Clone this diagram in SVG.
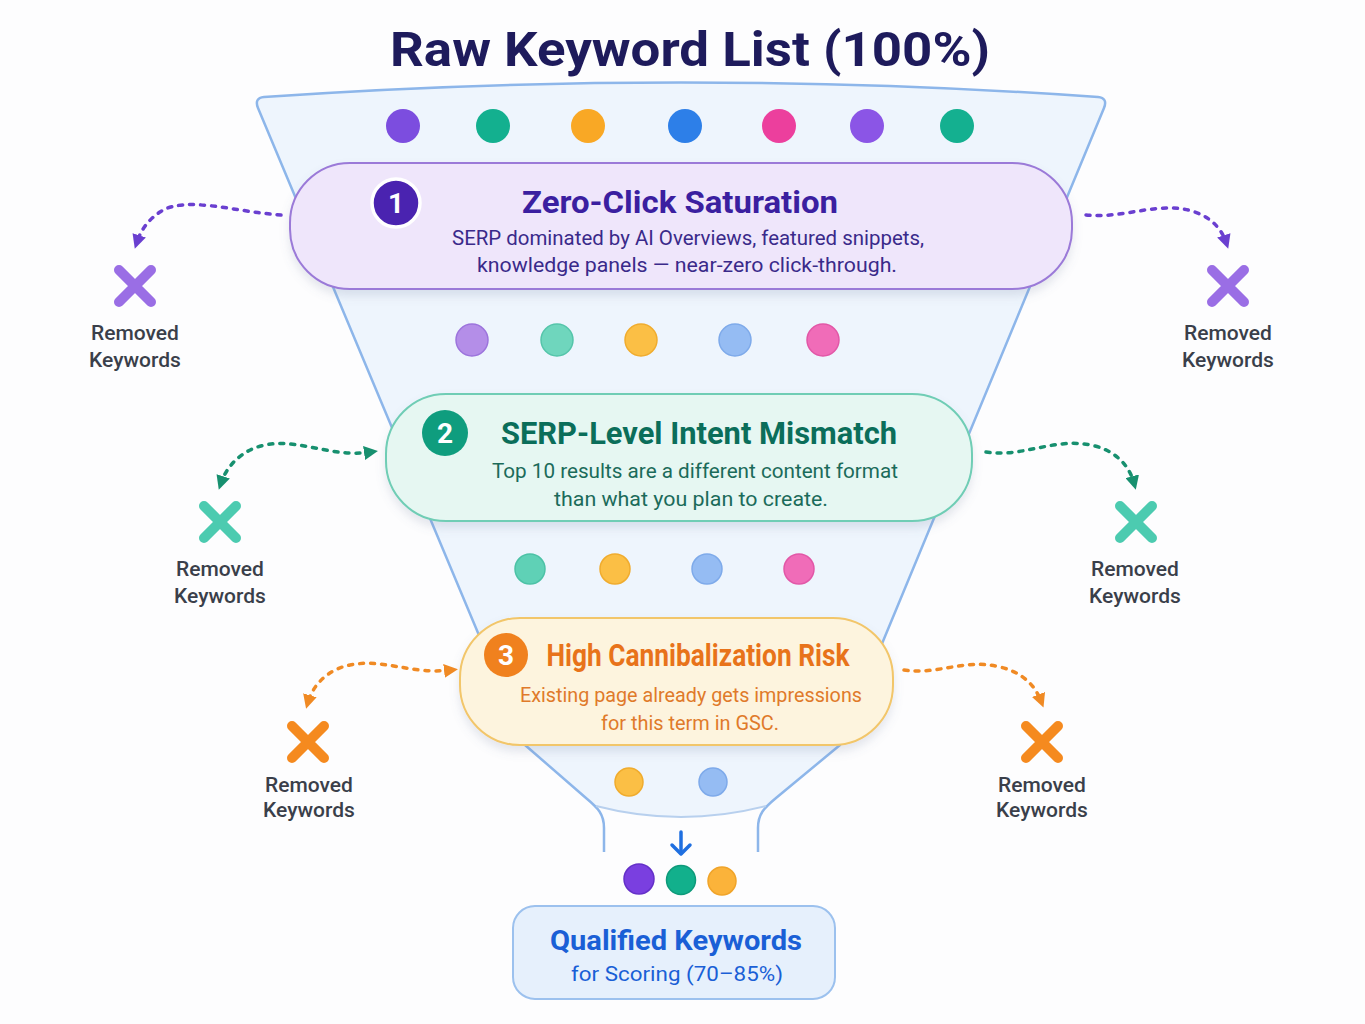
<svg xmlns="http://www.w3.org/2000/svg" width="1365" height="1024" viewBox="0 0 1365 1024">
<defs>
<style>
text{font-family:Roboto,"Open Sans","Liberation Sans",sans-serif}
.title{font-size:48px;font-weight:700;fill:#1e1b5c}
.st{font-size:32px;font-weight:700}
.desc{font-size:19.5px}
.rm{font-size:21px;fill:#3a3f4a;font-weight:500}
.badge{font-size:28px;font-weight:700;fill:#fff}
.dp{fill:none;stroke-width:3.5;stroke-linecap:round;stroke-dasharray:4 7}
.xx{fill:none;stroke-width:10;stroke-linecap:round}
</style>
<filter id="sh" x="-10%" y="-20%" width="120%" height="150%">
<feDropShadow dx="0" dy="6" stdDeviation="5" flood-color="#6b7a99" flood-opacity="0.18"/>
</filter>
<marker id="mP" viewBox="0 0 10 10" refX="5" refY="5" markerWidth="4" markerHeight="4" orient="auto-start-reverse" markerUnits="strokeWidth"><path d="M0,0 L10,5 L0,10 z" fill="#6a3fd0"/></marker>
<marker id="mT" viewBox="0 0 10 10" refX="5" refY="5" markerWidth="4" markerHeight="4" orient="auto-start-reverse" markerUnits="strokeWidth"><path d="M0,0 L10,5 L0,10 z" fill="#17906f"/></marker>
<marker id="mO" viewBox="0 0 10 10" refX="5" refY="5" markerWidth="4" markerHeight="4" orient="auto-start-reverse" markerUnits="strokeWidth"><path d="M0,0 L10,5 L0,10 z" fill="#f08a24"/></marker>
<marker id="mB" viewBox="0 0 10 10" refX="5" refY="5" markerWidth="4" markerHeight="4" orient="auto" markerUnits="strokeWidth"><path d="M0,0 L10,5 L0,10" fill="none" stroke="#1f6fe0" stroke-width="2.5" stroke-linecap="round"/></marker>
</defs>
<rect width="1365" height="1024" fill="#fdfdfe"/>

<g id="title"><text class="title" x="690" y="66" text-anchor="middle" textLength="600" lengthAdjust="spacingAndGlyphs">Raw Keyword List (100%)</text></g>

<g id="funnel">
<path d="M264,97 Q681,68 1098,97 Q1108,98 1104,108 L840,745 L778,798 C772,803 768,805 766,806 Q681,828 596,806 C594,805 590,803 584,798 L525,745 L258,108 Q254,98 264,97 Z" fill="#eef5fd"/>
<path d="M604,852 L604,828 C604,814 598,808 586,798 L525,745 L258,108 Q254,98 264,97 Q681,68 1098,97 Q1108,98 1104,108 L840,745 L776,798 C764,808 758,814 758,828 L758,852" fill="none" stroke="#8db6ea" stroke-width="2.5" stroke-linejoin="round"/>
<path d="M596,806 Q681,828 766,806" fill="none" stroke="#b8d0ee" stroke-width="2"/>
</g>

<g id="dots">
<circle cx="403" cy="126" r="17" fill="#7c4ddf"/>
<circle cx="493" cy="126" r="17" fill="#13b08f"/>
<circle cx="588" cy="126" r="17" fill="#f9a825"/>
<circle cx="685" cy="126" r="17" fill="#2d7fe8"/>
<circle cx="779" cy="126" r="17" fill="#ec3f9d"/>
<circle cx="867" cy="126" r="17" fill="#8b55e6"/>
<circle cx="957" cy="126" r="17" fill="#14b090"/>
<circle cx="472" cy="340" r="16" fill="#b48ee8" stroke="#9c74dc" stroke-width="1.5"/>
<circle cx="557" cy="340" r="16" fill="#6fd6bd" stroke="#55c5aa" stroke-width="1.5"/>
<circle cx="641" cy="340" r="16" fill="#fbbf45" stroke="#f0ac2e" stroke-width="1.5"/>
<circle cx="735" cy="340" r="16" fill="#95bcf3" stroke="#7eaaea" stroke-width="1.5"/>
<circle cx="823" cy="340" r="16" fill="#f06cb8" stroke="#e257a7" stroke-width="1.5"/>
<circle cx="530" cy="569" r="15" fill="#5fd1b6" stroke="#4cc2a6" stroke-width="1.5"/>
<circle cx="615" cy="569" r="15" fill="#fbbf45" stroke="#f0ac2e" stroke-width="1.5"/>
<circle cx="707" cy="569" r="15" fill="#95bcf3" stroke="#7eaaea" stroke-width="1.5"/>
<circle cx="799" cy="569" r="15" fill="#f06cb8" stroke="#e257a7" stroke-width="1.5"/>
<circle cx="629" cy="782" r="14" fill="#fbbf45" stroke="#f0ac2e" stroke-width="1.5"/>
<circle cx="713" cy="782" r="14" fill="#95bcf3" stroke="#7eaaea" stroke-width="1.5"/>
<circle cx="639" cy="879" r="15" fill="#7a3fe0" stroke="#6430c8" stroke-width="1.5"/>
<circle cx="681" cy="880" r="14.5" fill="#12b08c" stroke="#0e9a7a" stroke-width="1.5"/>
<circle cx="722" cy="881" r="14" fill="#fbb33a" stroke="#f0a42a" stroke-width="1.5"/>
</g>

<g id="stage1">
<rect x="290" y="163" width="782" height="126" rx="60" fill="#efe6fb" stroke="#9b7ad8" stroke-width="2" filter="url(#sh)"/>
<circle cx="396" cy="203" r="24" fill="#4a23b0" stroke="#fff" stroke-width="3.5"/>
<text class="badge" x="396" y="213" text-anchor="middle">1</text>
<text class="st" x="680" y="213" text-anchor="middle" fill="#3b1fa0" textLength="316" lengthAdjust="spacingAndGlyphs">Zero-Click Saturation</text>
<text class="desc" x="688" y="245" text-anchor="middle" fill="#3a2a8a" textLength="472" lengthAdjust="spacingAndGlyphs">SERP dominated by AI Overviews, featured snippets,</text>
<text class="desc" x="687" y="272" text-anchor="middle" fill="#3a2a8a" textLength="420" lengthAdjust="spacingAndGlyphs">knowledge panels — near-zero click-through.</text>
</g>

<g id="stage2">
<rect x="386" y="394" width="586" height="127" rx="60" fill="#e6f7f2" stroke="#6fcdb5" stroke-width="2" filter="url(#sh)"/>
<circle cx="445" cy="433" r="23" fill="#0f9d7e"/>
<text class="badge" x="445" y="443" text-anchor="middle">2</text>
<text class="st" x="699" y="444" text-anchor="middle" fill="#0b6e5a" textLength="396" lengthAdjust="spacingAndGlyphs">SERP-Level Intent Mismatch</text>
<text class="desc" x="695" y="478" text-anchor="middle" fill="#1b6b5a" textLength="406" lengthAdjust="spacingAndGlyphs">Top 10 results are a different content format</text>
<text class="desc" x="691" y="506" text-anchor="middle" fill="#1b6b5a" textLength="274" lengthAdjust="spacingAndGlyphs">than what you plan to create.</text>
</g>

<g id="stage3">
<rect x="460" y="618" width="433" height="127" rx="60" fill="#fdf4de" stroke="#f2c66a" stroke-width="2" filter="url(#sh)"/>
<circle cx="506" cy="655" r="22" fill="#f0811e"/>
<text class="badge" x="506" y="665" text-anchor="middle">3</text>
<text class="st" x="698" y="666" text-anchor="middle" fill="#e8731a" font-size="29" textLength="303" lengthAdjust="spacingAndGlyphs">High Cannibalization Risk</text>
<text class="desc" x="691" y="702" text-anchor="middle" fill="#e07a2a" textLength="342" lengthAdjust="spacingAndGlyphs">Existing page already gets impressions</text>
<text class="desc" x="690" y="730" text-anchor="middle" fill="#e07a2a" textLength="178" lengthAdjust="spacingAndGlyphs">for this term in GSC.</text>
</g>

<g id="result">
<rect x="513" y="906" width="322" height="93" rx="22" fill="#e6f0fc" stroke="#9cc1ee" stroke-width="2"/>
<text x="676" y="950" text-anchor="middle" font-size="28" font-weight="700" fill="#1a5fd6" textLength="252" lengthAdjust="spacingAndGlyphs">Qualified Keywords</text>
<text x="677" y="981" text-anchor="middle" font-size="21" fill="#1a5fd6" textLength="212" lengthAdjust="spacingAndGlyphs">for Scoring (70–85%)</text>
</g>

<g id="removed-1L">
<path class="xx" d="M119,270 L151,302 M151,270 L119,302" stroke="#9a6ee5"/>
<text class="rm" x="135" y="340" text-anchor="middle">Removed</text>
<text class="rm" x="135" y="367" text-anchor="middle">Keywords</text>
</g>
<g id="removed-1R">
<path class="xx" d="M1212,270 L1244,302 M1244,270 L1212,302" stroke="#9a6ee5"/>
<text class="rm" x="1228" y="340" text-anchor="middle">Removed</text>
<text class="rm" x="1228" y="367" text-anchor="middle">Keywords</text>
</g>
<g id="removed-2L">
<path class="xx" d="M204,506 L236,538 M236,506 L204,538" stroke="#4ccbb0"/>
<text class="rm" x="220" y="576" text-anchor="middle">Removed</text>
<text class="rm" x="220" y="603" text-anchor="middle">Keywords</text>
</g>
<g id="removed-2R">
<path class="xx" d="M1120,506 L1152,538 M1152,506 L1120,538" stroke="#4ccbb0"/>
<text class="rm" x="1135" y="576" text-anchor="middle">Removed</text>
<text class="rm" x="1135" y="603" text-anchor="middle">Keywords</text>
</g>
<g id="removed-3L">
<path class="xx" d="M292,726 L324,758 M324,726 L292,758" stroke="#f58a1f"/>
<text class="rm" x="309" y="792" text-anchor="middle">Removed</text>
<text class="rm" x="309" y="817" text-anchor="middle">Keywords</text>
</g>
<g id="removed-3R">
<path class="xx" d="M1026,726 L1058,758 M1058,726 L1026,758" stroke="#f58a1f"/>
<text class="rm" x="1042" y="792" text-anchor="middle">Removed</text>
<text class="rm" x="1042" y="817" text-anchor="middle">Keywords</text>
</g>

<g id="connectors">
<path class="dp" d="M281,215 C235,212 185,195 160,212 C148,220 141,230 137,242" stroke="#6a3fd0" marker-end="url(#mP)"/>
<path class="dp" d="M1086,215 C1125,219 1160,200 1195,212 C1212,218 1222,230 1226,242" stroke="#6a3fd0" marker-end="url(#mP)"/>
<path class="dp" d="M371,452 C330,458 300,438 265,445 C240,450 226,468 221,483" stroke="#17906f" marker-start="url(#mT)" marker-end="url(#mT)"/>
<path class="dp" d="M986,452 C1025,458 1055,436 1095,446 C1118,452 1130,468 1134,483" stroke="#17906f" marker-end="url(#mT)"/>
<path class="dp" d="M451,670 C410,675 385,658 350,665 C325,670 312,688 308,702" stroke="#f08a24" marker-start="url(#mO)" marker-end="url(#mO)"/>
<path class="dp" d="M904,670 C940,675 965,658 1000,667 C1025,673 1036,688 1041,701" stroke="#f08a24" marker-end="url(#mO)"/>
<path d="M681,832 L681,853" fill="none" stroke="#1f6fe0" stroke-width="3.5" stroke-linecap="round"/>
<path d="M672,845 L681,854 L690,845" fill="none" stroke="#1f6fe0" stroke-width="3.5" stroke-linecap="round" stroke-linejoin="round"/>
</g>
</svg>
